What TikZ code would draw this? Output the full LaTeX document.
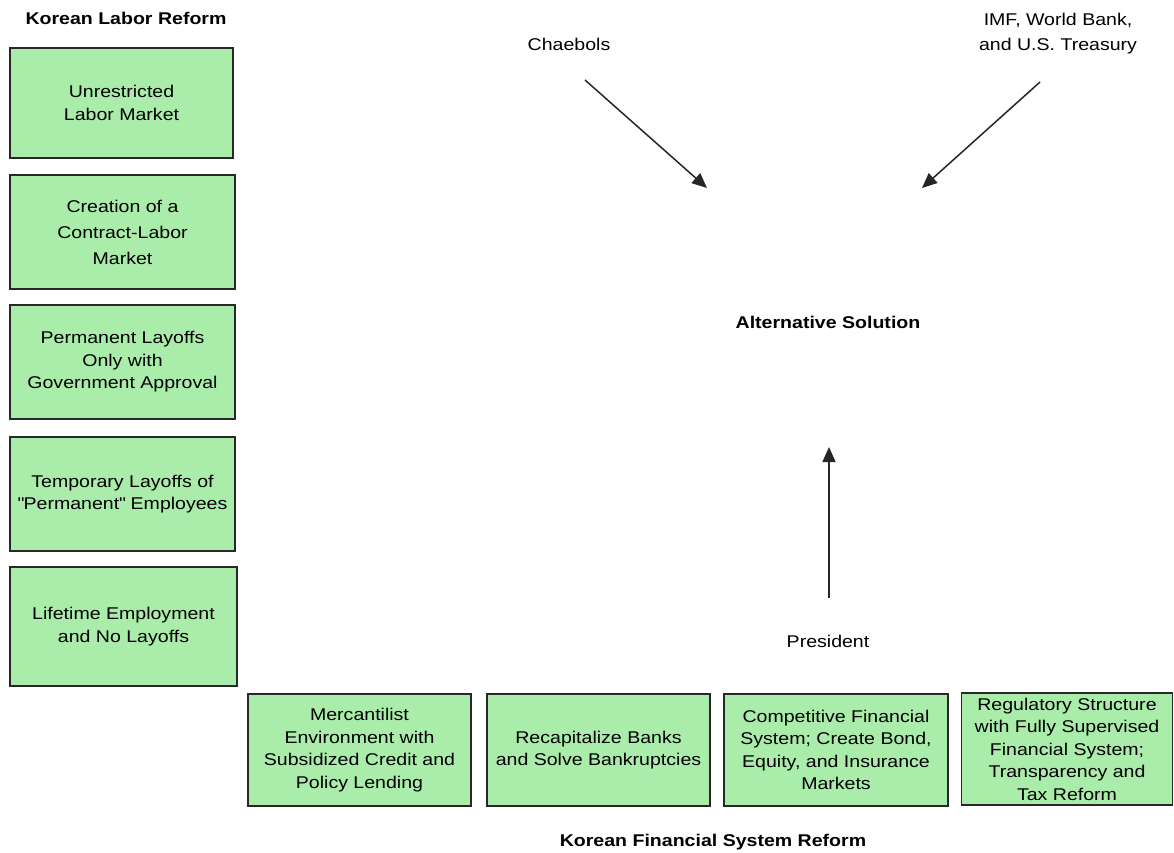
\documentclass[tikz,border=0pt]{standalone}
\usepackage{fontspec}
\setmainfont{Liberation Sans}[FakeStretch=1.15]
\usetikzlibrary{arrows.meta}
\definecolor{boxgreen}{RGB}{170,236,170}
\definecolor{boxline}{RGB}{40,40,40}
\begin{document}
\begin{tikzpicture}[x=1pt,y=-1pt,
  reform/.style={draw=boxline,fill=boxgreen,line width=1.5pt,align=center,inner sep=0pt,
    font=\fontsize{17}{22.5}\selectfont},
  heading/.style={align=center,inner sep=0pt,font=\fontsize{17}{22.5}\selectfont\bfseries},
  plain/.style={align=center,inner sep=0pt,font=\fontsize{17}{25}\selectfont},
  push/.style={line width=1.5pt,draw=black!85,-{Triangle[length=15pt,width=13pt]}}]
\useasboundingbox (0,0) rectangle (1174,852);
% left column
\node[heading] (labor) at (126,18) {Korean Labor Reform};
\node[reform,minimum width=223pt,minimum height=110pt] (l1) at (121.5,103) {Unrestricted\\Labor Market};
\node[reform,minimum width=225pt,minimum height=114pt,font=\fontsize{17}{26}\selectfont] (l2) at (122.5,232) {Creation of a\\Contract-Labor\\Market};
\node[reform,minimum width=225pt,minimum height=114pt] (l3) at (122.5,362) {Permanent Layoffs\\Only with\\Government Approval};
\node[reform,minimum width=225pt,minimum height=114pt] (l4) at (122.5,494) {Temporary Layoffs of\\\textquotedbl Permanent\textquotedbl{} Employees};
\node[reform,minimum width=227pt,minimum height=119pt] (l5) at (123.5,626.5) {Lifetime Employment\\and No Layoffs};
% bottom row
\node[reform,minimum width=223pt,minimum height=112pt] (b1) at (359.5,750) {Mercantilist\\Environment with\\Subsidized Credit and\\Policy Lending};
\node[reform,minimum width=223pt,minimum height=112pt] (b2) at (598.5,750) {Recapitalize Banks\\and Solve Bankruptcies};
\node[reform,minimum width=224pt,minimum height=112pt] (b3) at (836,750) {Competitive Financial\\System; Create Bond,\\Equity, and Insurance\\Markets};
\node[reform,minimum width=211pt,minimum height=112pt] (b4) at (1067,749) {Regulatory Structure\\with Fully Supervised\\Financial System;\\Transparency and\\Tax Reform};
\node[heading] (fin) at (713,842) {Korean Financial System Reform};
% actors
\node[plain] (chaebols) at (569,44) {Chaebols};
\node[plain] (imf) at (1058,34) {IMF, World Bank,\\and U.S. Treasury};
\node[heading] (alt) at (828,322) {Alternative Solution};
\node[plain] (pres) at (828,641) {President};
\coordinate (c1) at (585,80);
\coordinate (c2) at (707,188);
\coordinate (i1) at (1040,82);
\coordinate (i2) at (922,188);
\coordinate (p1) at (829,598);
\coordinate (p2) at (829,447);
\draw[push] (c1) -- (c2);
\draw[push] (i1) -- (i2);
\draw[push] (p1) -- (p2);
\end{tikzpicture}
\end{document}
